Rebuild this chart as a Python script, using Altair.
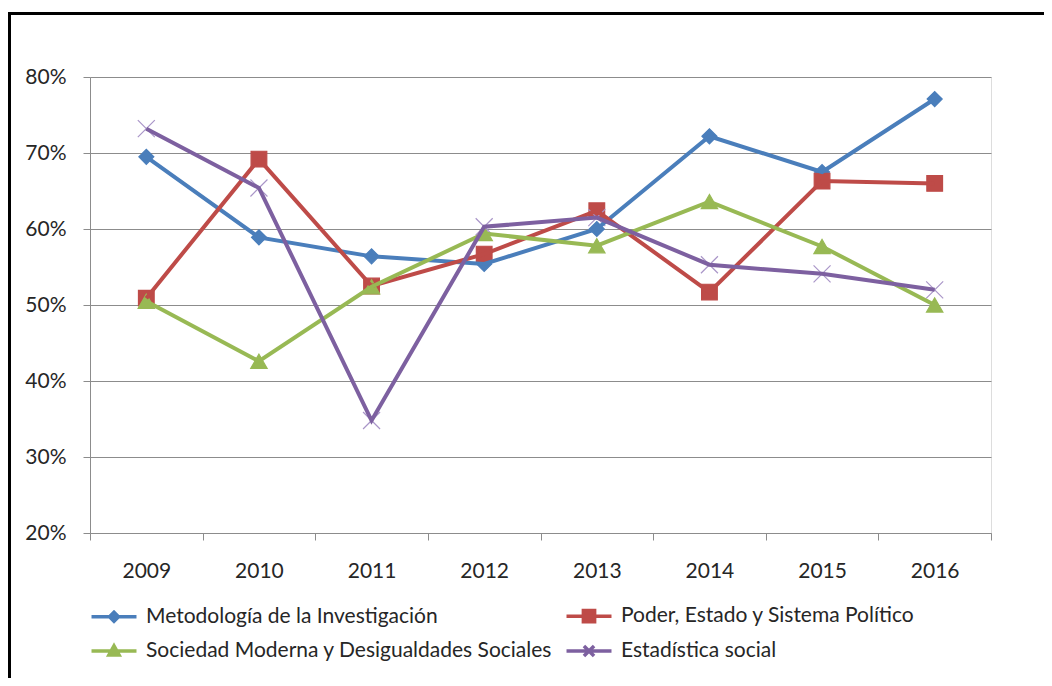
import altair as alt
import pandas as pd

years = [2009, 2010, 2011, 2012, 2013, 2014, 2015, 2016]
series_names = [
    "Metodología de la Investigación",
    "Poder, Estado y Sistema Político",
    "Sociedad Moderna y Desigualdades Sociales",
    "Estadística social",
]
metodologia = [0.695, 0.589, 0.564, 0.554, 0.600, 0.722, 0.675, 0.771]
poder = [0.509, 0.692, 0.525, 0.567, 0.624, 0.517, 0.663, 0.660]
sociedad = [0.505, 0.426, 0.524, 0.594, 0.578, 0.636, 0.577, 0.500]
estadistica = [0.732, 0.654, 0.348, 0.603, 0.615, 0.553, 0.541, 0.520]

y_ticks = [0.2, 0.3, 0.4, 0.5, 0.6, 0.7, 0.8]
x_bounds = [2008.5, 2009.5, 2010.5, 2011.5, 2012.5, 2013.5, 2014.5, 2015.5, 2016.5]

line_colors = ["#4A7EBB", "#BE4B48", "#98B954", "#7D60A0"]
marker_colors = ["#4A7EBB", "#BE4B48", "#98B954", "#A995C8"]
marker_sizes = [225, 289, 289, 225]
marker_shapes = [
    "diamond",
    "square",
    "triangle-up",
    "M-1,-1L1,1M-1,1L1,-1",
]
legend_shapes = [
    "M-2,0L2,0M0,-0.4L0.4,0L0,0.4L-0.4,0Z",
    "M-2,0L2,0M-0.5,-0.5L0.5,-0.5L0.5,0.5L-0.5,0.5Z",
    "M-2,0L2,0M0,-0.45L0.45,0.35L-0.45,0.35Z",
    "M-2,0L2,0M-0.45,-0.45L0.45,0.45M-0.45,0.45L0.45,-0.45",
]

rows = []
for name, vals in zip(series_names, [metodologia, poder, sociedad, estadistica]):
    for yr, v in zip(years, vals):
        rows.append({"year": yr, "value": v, "serie": name})
df = pd.DataFrame(rows)

FONT = "Lato"
TXT = "#262626"
GRID = "#8C8C8C"

x_scale = alt.Scale(domain=[2008.5, 2016.5], nice=False, zero=False)
y_scale = alt.Scale(domain=[0.2, 0.8], nice=False, zero=False)

y_axis = alt.Axis(
    values=y_ticks, format=".0%", title=None, grid=True, gridColor=GRID,
    gridWidth=1, domainColor=GRID, tickColor=GRID, tickSize=7,
    labelFont=FONT, labelFontSize=21, labelColor=TXT, labelPadding=17)

legend_obj = alt.Legend(
    title=None, orient="none", direction="horizontal", legendX=11, legendY=526,
    columns=2, columnPadding=6, rowPadding=9, symbolSize=506,
    symbolStrokeWidth=3.5, symbolOpacity=1,
    labelFont=FONT, labelFontSize=21, labelColor=TXT, labelOffset=19, labelLimit=600)

base = alt.Chart(df)

lines = base.mark_line(strokeWidth=4).encode(
    x=alt.X("year:Q", scale=x_scale, axis=alt.Axis(
        orient="bottom", values=years, format="d", title=None, ticks=False,
        domain=False, grid=False, labelFont=FONT, labelFontSize=21,
        labelColor=TXT, labelPadding=27)),
    y=alt.Y("value:Q", scale=y_scale, axis=y_axis),
    color=alt.Color("serie:N", scale=alt.Scale(domain=series_names, range=line_colors), legend=None),
    detail="serie:N",
)

points = base.mark_point(filled=True, strokeWidth=1.2, opacity=1).encode(
    x=alt.X("year:Q", scale=x_scale, axis=alt.Axis(
        orient="bottom", values=x_bounds, labels=False, title=None, grid=False,
        domainColor=GRID, tickColor=GRID, tickSize=7)),
    y=alt.Y("value:Q", scale=y_scale, axis=y_axis),
    color=alt.Color("serie:N", scale=alt.Scale(domain=series_names, range=marker_colors), legend=None),
    stroke=alt.Stroke("serie:N", scale=alt.Scale(domain=series_names, range=marker_colors), legend=None),
    shape=alt.Shape("serie:N", scale=alt.Scale(domain=series_names, range=marker_shapes), legend=None),
    size=alt.Size("serie:N", scale=alt.Scale(domain=series_names, range=marker_sizes), legend=None),
)

legend_layer = base.transform_filter("false").mark_point(filled=True, opacity=1).encode(
    x=alt.X("year:Q", scale=x_scale, axis=None),
    y=alt.Y("value:Q", scale=y_scale, axis=y_axis),
    color=alt.Color("serie:N", scale=alt.Scale(domain=series_names, range=line_colors), legend=legend_obj),
    stroke=alt.Stroke("serie:N", scale=alt.Scale(domain=series_names, range=line_colors), legend=legend_obj),
    shape=alt.Shape("serie:N", scale=alt.Scale(domain=series_names, range=legend_shapes), legend=legend_obj),
)

border_df = pd.DataFrame({"a": [0]})
left_border = alt.Chart(border_df).mark_rule(color="black", strokeWidth=3).encode(
    x=alt.value(-80.5), y=alt.value(-65), y2=alt.value(601))
top_border = alt.Chart(border_df).mark_rule(color="black", strokeWidth=3).encode(
    x=alt.value(-82), x2=alt.value(954), y=alt.value(-63.5))

chart = alt.layer(points, lines, legend_layer, left_border, top_border).resolve_scale(
    color="independent", shape="independent", stroke="independent", size="independent"
).resolve_axis(x="independent").properties(
    width=901, height=456,
    autosize=alt.AutoSizeParams(type="none"),
    padding={"left": 82, "top": 69, "right": 53, "bottom": 145},
).configure_view(strokeWidth=0).configure(background="white")

chart.save("out.html", embed_options={"renderer": "svg", "actions": False})
